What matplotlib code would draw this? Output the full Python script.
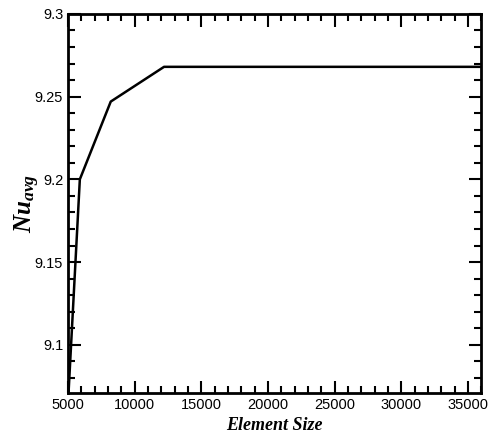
import matplotlib
matplotlib.use("Agg")
import matplotlib.pyplot as plt
from matplotlib.ticker import MultipleLocator

# grid convergence data
element_size = [5000, 5880, 8200, 12200, 36000]
nu_avg = [9.066, 9.200, 9.247, 9.268, 9.268]

plt.rcParams['font.family'] = 'Liberation Sans'
plt.rcParams['mathtext.fontset'] = 'custom'
plt.rcParams['mathtext.bfit'] = 'Liberation Serif:italic:bold'
plt.rcParams['mathtext.it'] = 'Liberation Serif:italic:bold'

fig = plt.figure(figsize=(4.9, 4.34), dpi=100)
ax = fig.add_axes([0.139, 0.095, 0.843, 0.873])

ax.plot(element_size, nu_avg, color='black', lw=1.8)

ax.set_xlim(5000, 36000)
ax.set_ylim(9.071, 9.3)
ax.xaxis.set_major_locator(MultipleLocator(5000))
ax.xaxis.set_minor_locator(MultipleLocator(1000))
ax.yaxis.set_major_locator(MultipleLocator(0.05))
ax.yaxis.set_minor_locator(MultipleLocator(0.01))
ax.set_yticks([9.1, 9.15, 9.2, 9.25, 9.3])
ax.set_yticklabels(['9.1', '9.15', '9.2', '9.25', '9.3'])

ax.tick_params(which='both', direction='in', top=True, right=True, width=1.5, labelsize=10.5)
ax.tick_params(which='major', length=9)
ax.tick_params(which='minor', length=5)
for s in ax.spines.values():
    s.set_linewidth(2)

ax.set_xlabel('Element Size', family='Liberation Serif', style='italic',
              weight='bold', fontsize=13, labelpad=4)
ax.set_ylabel(r'$\mathbfit{Nu}_{\mathbfit{avg}}$', fontsize=18, labelpad=-5)

fig.savefig('out.png', dpi=100)
